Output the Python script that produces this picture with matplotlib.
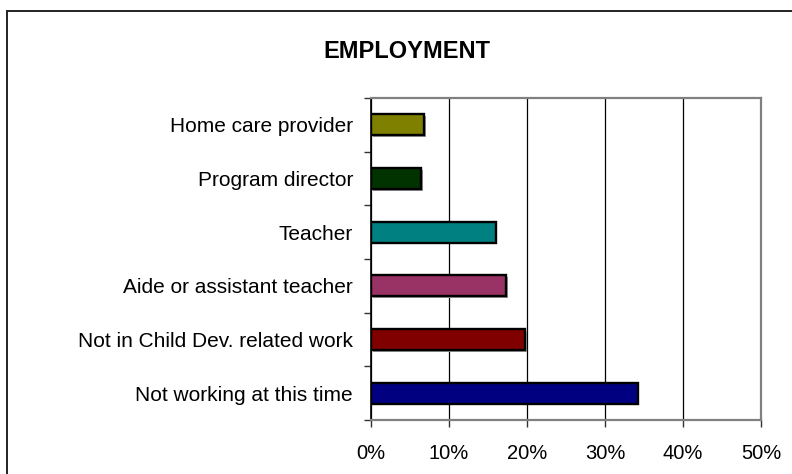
import numpy as np
import matplotlib
matplotlib.use("Agg")
import matplotlib.pyplot as plt
from matplotlib.patches import Rectangle
from matplotlib.ticker import FixedLocator, PercentFormatter
import matplotlib.patheffects as pe

plt.rcParams['font.family'] = ['Liberation Sans', 'DejaVu Sans']

categories = ['Not working at this time', 'Not in Child Dev. related work',
              'Aide or assistant teacher', 'Teacher', 'Program director',
              'Home care provider']
values = [34.2, 19.8, 17.3, 16.0, 6.4, 6.8]
colors = ['#000080', '#800000', '#993366', '#008080', '#003300', '#808000']
x_ticks = [0, 10, 20, 30, 40, 50]

W, H = 792, 474
fig = plt.figure(figsize=(W / 100, H / 100), dpi=100)

# outer frame of the chart box
fig.patches.append(Rectangle((7 / W, -0.1), 1.2, 1 - 11 / H + 0.1,
                             transform=fig.transFigure, fill=False,
                             edgecolor='#222222', linewidth=1.4))

ax = fig.add_axes([371 / W, 1 - 420 / H, (761 - 371) / W, (420 - 98) / H])

y = np.arange(len(categories))
bars = ax.barh(y, values, height=0.39, color=colors, edgecolor='black',
               linewidth=1.7, zorder=3)
for b in bars:
    b.set_path_effects([pe.SimplePatchShadow(offset=(1.2, -1.2), shadow_rgbFace='#999999', alpha=1),
                        pe.Normal()])

ax.set_xlim(0, 50)
ax.set_ylim(-0.5, len(categories) - 0.5)

ax.set_xticks(x_ticks)
ax.xaxis.set_major_formatter(PercentFormatter(decimals=0))
ax.grid(axis='x', color='black', linewidth=0.9, zorder=1)

ax.set_yticks(y)
ax.set_yticklabels(categories)
ax.yaxis.set_minor_locator(FixedLocator(np.arange(-0.5, len(categories), 1.0)))
ax.tick_params(axis='y', which='major', length=0, pad=13, labelsize=15)
ax.tick_params(axis='y', which='minor', length=5, width=1, color='#333333')
ax.tick_params(axis='x', length=5, width=1, color='#333333', pad=12, labelsize=14.5)

for side in ['top', 'right', 'bottom']:
    ax.spines[side].set_color('#808080')
    ax.spines[side].set_linewidth(1.6)
ax.spines['left'].set_color('black')
ax.spines['left'].set_linewidth(1.2)

fig.text(406.5 / W, 1 - 51 / H, 'EMPLOYMENT', ha='center', va='center',
         fontsize=17, fontweight='bold')

fig.savefig('out.png', dpi=100)
